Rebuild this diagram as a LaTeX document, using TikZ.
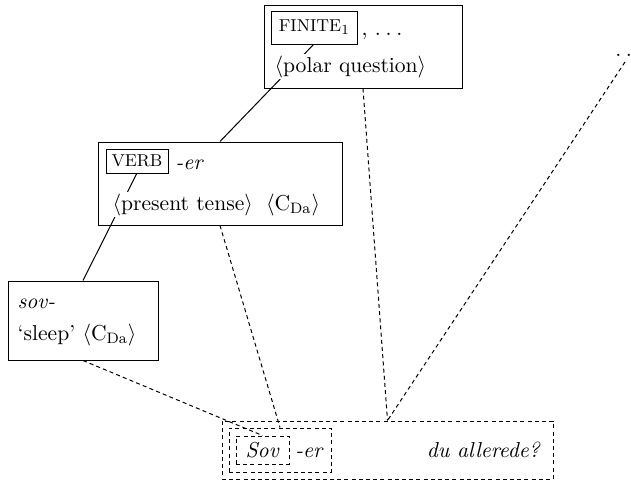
\documentclass[tikz,border=0pt]{standalone}
\begin{document}
\begin{tikzpicture}[x=0.5pt,y=-0.5pt,
  font=\fontsize{10.8pt}{13pt}\selectfont,
  box/.style={draw, line width=0.5pt, fill=white, inner sep=0pt},
  ibox/.style={draw, line width=0.5pt, fill=white, inner sep=0pt},
  dbox/.style={draw, line width=0.5pt, dash pattern=on 2pt off 1.6pt, inner sep=0pt},
  txt/.style={inner sep=0.6pt, fill=white},
  conn/.style={line width=0.5pt},
  dconn/.style={line width=0.5pt, dash pattern=on 2pt off 1.6pt},
  capsf/.style={font=\fontsize{8.6pt}{10pt}\selectfont}]
\useasboundingbox (0,0) rectangle (631,482);
% outer boxes
\node[box, minimum width=99pt, minimum height=41.5pt] (top) at (363,46.5) {};
\node[box, minimum width=122pt, minimum height=41.5pt] (mid) at (220,183.5) {};
\node[box, minimum width=75pt, minimum height=39.5pt] (small) at (83,320.5) {};
% inner box positions
\coordinate (finpos) at (314,27.5);
\coordinate (verbpos) at (137,161);
% solid connectors
\draw[conn] (mid.north) -- (finpos |- 0,44);
\draw[conn] (verbpos |- 0,173) -- (small.north);
% texts
\node[txt, anchor=base west] (t1) at (360,35) {, .\kern2.4pt.\kern2.4pt.};
\node[txt, anchor=base west] (t2) at (273,72) {$\langle$polar question$\rangle$};
\node[txt, anchor=base west] (t3) at (174,169) {\textit{-er}};
\node[txt, anchor=base west] (t4) at (111,210) {$\langle$present tense$\rangle$\hspace{3pt} $\langle$C\textsubscript{Da}$\rangle$};
\node[txt, anchor=base west] (t5) at (16,308) {\textit{sov-}};
\node[txt, anchor=base west] (t6) at (16,340) {`sleep' $\langle$C\textsubscript{Da}$\rangle$};
% inner boxes
\node[ibox, minimum width=43pt, minimum height=16.5pt] (finite) at (finpos) {{\fontsize{8.6pt}{10pt}\selectfont FINITE}\raisebox{-1.5pt}{\scriptsize 1}};
\node[ibox, minimum width=31pt, minimum height=12pt, capsf] (verb) at (verbpos) {VERB};
% dots
\node[inner sep=0pt, anchor=base west] (dots) at (615,56) {.\kern2.2pt.};
\coordinate (dotsend) at (625,62);
% bottom boxes
\node[dbox, minimum width=165.5pt, minimum height=29pt] (bot) at (387.5,450) {};
\node[dbox, minimum width=51pt, minimum height=22pt] (inner) at (280,450) {};
\node[dbox, minimum width=26.5pt, minimum height=14pt] (sov) at (262.5,450) {\textit{Sov}};
\node[inner sep=0pt, anchor=base west] (er) at (295,457) {\textit{-er}};
\node[inner sep=0pt, anchor=base east] (du) at (541,457) {\textit{du allerede?}};
% dashed connectors
\draw[dconn] (top.south) -- (bot.north);
\draw[dconn] (dotsend) -- (bot.north);
\draw[dconn] (mid.south) -- (inner.north);
\draw[dconn] (small.south) -- (sov.north);
\end{tikzpicture}
\end{document}
